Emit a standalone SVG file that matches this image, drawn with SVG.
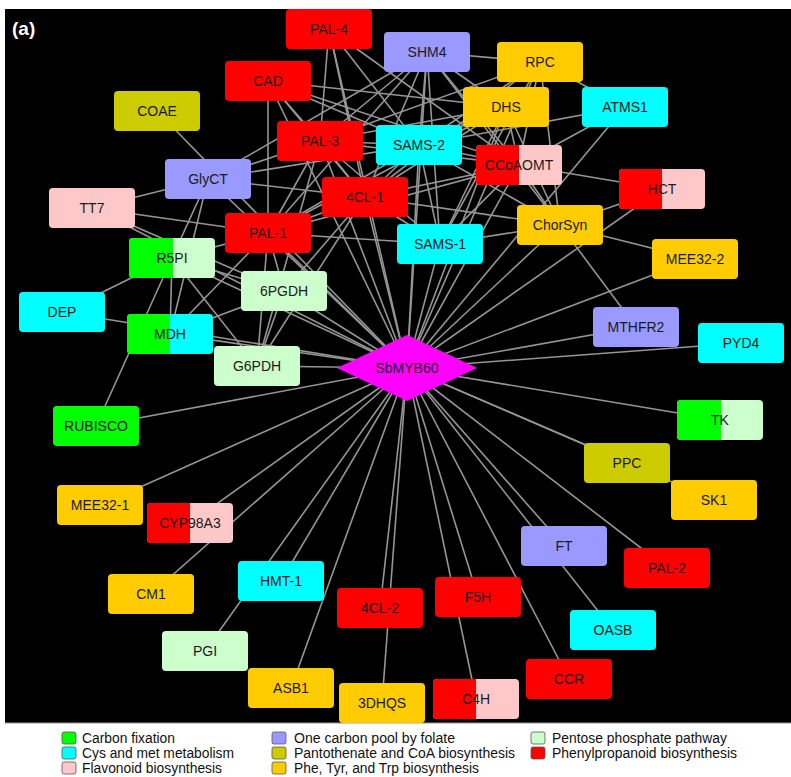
<svg xmlns="http://www.w3.org/2000/svg" width="791" height="777" viewBox="0 0 791 777">
<style>
.e line{stroke:#959595;stroke-width:1.6}
.n text{font-family:"Liberation Sans",Arial,sans-serif;font-size:14px;fill:#1a1a1a;text-anchor:middle}
.lg text{font-family:"Liberation Sans Narrow","Liberation Sans",Arial,sans-serif;font-size:14px;fill:#111}
.lg rect{stroke:#555;stroke-width:0.8}
.cf{fill:#00ff00}.cm{fill:#00ffff}.fl{fill:#ffc8c8}.oc{fill:#9999ff}.pa{fill:#cccc00}.pt{fill:#ffcc00}.pp{fill:#ccffcc}.ph{fill:#ff0000}
</style>
<rect x="0" y="0" width="791" height="777" fill="#ffffff"/>
<rect x="5" y="9" width="786" height="714" fill="#000000"/>
<line x1="5" y1="723" x2="791" y2="723" stroke="#999" stroke-width="1"/>
<text x="12" y="35" font-family="Liberation Sans,Arial,sans-serif" font-size="19" font-weight="bold" fill="#ffffff">(a)</text>
<g id="connectors" class="e">
<line x1="407" y1="368" x2="329" y2="29"/>
<line x1="407" y1="368" x2="268" y2="81"/>
<line x1="407" y1="368" x2="157" y2="111"/>
<line x1="407" y1="368" x2="427" y2="52"/>
<line x1="407" y1="368" x2="540" y2="62"/>
<line x1="407" y1="368" x2="506" y2="107"/>
<line x1="407" y1="368" x2="625" y2="107"/>
<line x1="407" y1="368" x2="320" y2="141"/>
<line x1="407" y1="368" x2="419" y2="145"/>
<line x1="407" y1="368" x2="519" y2="165"/>
<line x1="407" y1="368" x2="208" y2="179"/>
<line x1="407" y1="368" x2="365" y2="197"/>
<line x1="407" y1="368" x2="662" y2="189"/>
<line x1="407" y1="368" x2="92" y2="208"/>
<line x1="407" y1="368" x2="268" y2="233"/>
<line x1="407" y1="368" x2="560" y2="225"/>
<line x1="407" y1="368" x2="440" y2="244"/>
<line x1="407" y1="368" x2="172" y2="258"/>
<line x1="407" y1="368" x2="695" y2="259"/>
<line x1="407" y1="368" x2="284" y2="291"/>
<line x1="407" y1="368" x2="62" y2="312"/>
<line x1="407" y1="368" x2="170" y2="334"/>
<line x1="407" y1="368" x2="636" y2="327"/>
<line x1="407" y1="368" x2="741" y2="343"/>
<line x1="407" y1="368" x2="257" y2="366"/>
<line x1="407" y1="368" x2="96" y2="426"/>
<line x1="407" y1="368" x2="720" y2="420"/>
<line x1="407" y1="368" x2="627" y2="463"/>
<line x1="407" y1="368" x2="100" y2="505"/>
<line x1="407" y1="368" x2="714" y2="500"/>
<line x1="407" y1="368" x2="190" y2="523"/>
<line x1="407" y1="368" x2="564" y2="546"/>
<line x1="407" y1="368" x2="667" y2="568"/>
<line x1="407" y1="368" x2="281" y2="581"/>
<line x1="407" y1="368" x2="151" y2="594"/>
<line x1="407" y1="368" x2="478" y2="597"/>
<line x1="407" y1="368" x2="380" y2="608"/>
<line x1="407" y1="368" x2="613" y2="630"/>
<line x1="407" y1="368" x2="205" y2="651"/>
<line x1="407" y1="368" x2="569" y2="679"/>
<line x1="407" y1="368" x2="291" y2="688"/>
<line x1="407" y1="368" x2="476" y2="699"/>
<line x1="407" y1="368" x2="382" y2="703"/>
<line x1="329" y1="29" x2="320" y2="141"/>
<line x1="329" y1="29" x2="365" y2="197"/>
<line x1="329" y1="29" x2="419" y2="145"/>
<line x1="329" y1="29" x2="519" y2="165"/>
<line x1="268" y1="81" x2="268" y2="233"/>
<line x1="268" y1="81" x2="320" y2="141"/>
<line x1="268" y1="81" x2="365" y2="197"/>
<line x1="268" y1="81" x2="419" y2="145"/>
<line x1="268" y1="81" x2="506" y2="107"/>
<line x1="268" y1="81" x2="519" y2="165"/>
<line x1="427" y1="52" x2="540" y2="62"/>
<line x1="427" y1="52" x2="419" y2="145"/>
<line x1="427" y1="52" x2="320" y2="141"/>
<line x1="427" y1="52" x2="208" y2="179"/>
<line x1="427" y1="52" x2="365" y2="197"/>
<line x1="427" y1="52" x2="268" y2="233"/>
<line x1="427" y1="52" x2="519" y2="165"/>
<line x1="427" y1="52" x2="560" y2="225"/>
<line x1="427" y1="52" x2="506" y2="107"/>
<line x1="427" y1="52" x2="440" y2="244"/>
<line x1="540" y1="62" x2="625" y2="107"/>
<line x1="540" y1="62" x2="419" y2="145"/>
<line x1="540" y1="62" x2="519" y2="165"/>
<line x1="540" y1="62" x2="365" y2="197"/>
<line x1="540" y1="62" x2="320" y2="141"/>
<line x1="540" y1="62" x2="440" y2="244"/>
<line x1="540" y1="62" x2="560" y2="225"/>
<line x1="506" y1="107" x2="419" y2="145"/>
<line x1="506" y1="107" x2="320" y2="141"/>
<line x1="506" y1="107" x2="365" y2="197"/>
<line x1="506" y1="107" x2="440" y2="244"/>
<line x1="506" y1="107" x2="519" y2="165"/>
<line x1="506" y1="107" x2="560" y2="225"/>
<line x1="506" y1="107" x2="268" y2="233"/>
<line x1="625" y1="107" x2="419" y2="145"/>
<line x1="625" y1="107" x2="519" y2="165"/>
<line x1="519" y1="165" x2="662" y2="189"/>
<line x1="519" y1="165" x2="560" y2="225"/>
<line x1="519" y1="165" x2="419" y2="145"/>
<line x1="519" y1="165" x2="440" y2="244"/>
<line x1="519" y1="165" x2="365" y2="197"/>
<line x1="519" y1="165" x2="320" y2="141"/>
<line x1="519" y1="165" x2="268" y2="233"/>
<line x1="419" y1="145" x2="320" y2="141"/>
<line x1="419" y1="145" x2="365" y2="197"/>
<line x1="419" y1="145" x2="440" y2="244"/>
<line x1="419" y1="145" x2="268" y2="233"/>
<line x1="419" y1="145" x2="560" y2="225"/>
<line x1="419" y1="145" x2="208" y2="179"/>
<line x1="320" y1="141" x2="365" y2="197"/>
<line x1="320" y1="141" x2="268" y2="233"/>
<line x1="320" y1="141" x2="208" y2="179"/>
<line x1="320" y1="141" x2="440" y2="244"/>
<line x1="320" y1="141" x2="257" y2="366"/>
<line x1="365" y1="197" x2="268" y2="233"/>
<line x1="365" y1="197" x2="440" y2="244"/>
<line x1="365" y1="197" x2="208" y2="179"/>
<line x1="365" y1="197" x2="257" y2="366"/>
<line x1="365" y1="197" x2="284" y2="291"/>
<line x1="365" y1="197" x2="560" y2="225"/>
<line x1="268" y1="233" x2="440" y2="244"/>
<line x1="268" y1="233" x2="172" y2="258"/>
<line x1="268" y1="233" x2="170" y2="334"/>
<line x1="268" y1="233" x2="284" y2="291"/>
<line x1="268" y1="233" x2="257" y2="366"/>
<line x1="268" y1="233" x2="92" y2="208"/>
<line x1="208" y1="179" x2="92" y2="208"/>
<line x1="208" y1="179" x2="172" y2="258"/>
<line x1="208" y1="179" x2="170" y2="334"/>
<line x1="92" y1="208" x2="284" y2="291"/>
<line x1="172" y1="258" x2="170" y2="334"/>
<line x1="172" y1="258" x2="62" y2="312"/>
<line x1="172" y1="258" x2="284" y2="291"/>
<line x1="172" y1="258" x2="96" y2="426"/>
<line x1="172" y1="258" x2="257" y2="366"/>
<line x1="170" y1="334" x2="284" y2="291"/>
<line x1="284" y1="291" x2="257" y2="366"/>
<line x1="662" y1="189" x2="560" y2="225"/>
<line x1="560" y1="225" x2="695" y2="259"/>
<line x1="560" y1="225" x2="636" y2="327"/>
<line x1="560" y1="225" x2="440" y2="244"/>
</g>
<g id="PAL-4" class="n"><rect class="ph" x="286" y="9" width="86" height="40" rx="4"/><text x="329" y="34">PAL-4</text></g>
<g id="CAD" class="n"><rect class="ph" x="225" y="61" width="86" height="40" rx="4"/><text x="268" y="86">CAD</text></g>
<g id="COAE" class="n"><rect class="pa" x="114" y="91" width="86" height="40" rx="4"/><text x="157" y="116">COAE</text></g>
<g id="SHM4" class="n"><rect class="oc" x="384" y="32" width="86" height="40" rx="4"/><text x="427" y="57">SHM4</text></g>
<g id="RPC" class="n"><rect class="pt" x="497" y="42" width="86" height="40" rx="4"/><text x="540" y="67">RPC</text></g>
<g id="DHS" class="n"><rect class="pt" x="463" y="87" width="86" height="40" rx="4"/><text x="506" y="112">DHS</text></g>
<g id="ATMS1" class="n"><rect class="cm" x="582" y="87" width="86" height="40" rx="4"/><text x="625" y="112">ATMS1</text></g>
<g id="PAL-3" class="n"><rect class="ph" x="277" y="121" width="86" height="40" rx="4"/><text x="320" y="146">PAL-3</text></g>
<g id="SAMS-2" class="n"><rect class="cm" x="376" y="125" width="86" height="40" rx="4"/><text x="419" y="150">SAMS-2</text></g>
<g id="CCoAOMT" class="n"><rect class="fl" x="476" y="145" width="86" height="40" rx="4"/><path class="ph" d="M480 145H519V185H480A4 4 0 0 1 476 181V149A4 4 0 0 1 480 145Z"/><text x="519" y="170">CCoAOMT</text></g>
<g id="GlyCT" class="n"><rect class="oc" x="165" y="159" width="86" height="40" rx="4"/><text x="208" y="184">GlyCT</text></g>
<g id="4CL-1" class="n"><rect class="ph" x="322" y="177" width="86" height="40" rx="4"/><text x="365" y="202">4CL-1</text></g>
<g id="HCT" class="n"><rect class="fl" x="619" y="169" width="86" height="40" rx="4"/><path class="ph" d="M623 169H662V209H623A4 4 0 0 1 619 205V173A4 4 0 0 1 623 169Z"/><text x="662" y="194">HCT</text></g>
<g id="TT7" class="n"><rect class="fl" x="49" y="188" width="86" height="40" rx="4"/><text x="92" y="213">TT7</text></g>
<g id="PAL-1" class="n"><rect class="ph" x="225" y="213" width="86" height="40" rx="4"/><text x="268" y="238">PAL-1</text></g>
<g id="ChorSyn" class="n"><rect class="pt" x="517" y="205" width="86" height="40" rx="4"/><text x="560" y="230">ChorSyn</text></g>
<g id="SAMS-1" class="n"><rect class="cm" x="397" y="224" width="86" height="40" rx="4"/><text x="440" y="249">SAMS-1</text></g>
<g id="R5PI" class="n"><rect class="pp" x="129" y="238" width="86" height="40" rx="4"/><path class="cf" d="M133 238H173V278H133A4 4 0 0 1 129 274V242A4 4 0 0 1 133 238Z"/><text x="172" y="263">R5PI</text></g>
<g id="MEE32-2" class="n"><rect class="pt" x="652" y="239" width="86" height="40" rx="4"/><text x="695" y="264">MEE32-2</text></g>
<g id="6PGDH" class="n"><rect class="pp" x="241" y="271" width="86" height="40" rx="4"/><text x="284" y="296">6PGDH</text></g>
<g id="DEP" class="n"><rect class="cm" x="19" y="292" width="86" height="40" rx="4"/><text x="62" y="317">DEP</text></g>
<g id="MDH" class="n"><rect class="cm" x="127" y="314" width="86" height="40" rx="4"/><path class="cf" d="M131 314H170V354H131A4 4 0 0 1 127 350V318A4 4 0 0 1 131 314Z"/><text x="170" y="339">MDH</text></g>
<g id="MTHFR2" class="n"><rect class="oc" x="593" y="307" width="86" height="40" rx="4"/><text x="636" y="332">MTHFR2</text></g>
<g id="PYD4" class="n"><rect class="cm" x="698" y="323" width="86" height="40" rx="4"/><text x="741" y="348">PYD4</text></g>
<g id="G6PDH" class="n"><rect class="pp" x="214" y="346" width="86" height="40" rx="4"/><text x="257" y="371">G6PDH</text></g>
<g id="SbMYB60" class="n"><polygon points="337,368 407,335 477,368 407,401" fill="#ff00ff"/><text x="407" y="373">SbMYB60</text></g>
<g id="RUBISCO" class="n"><rect class="cf" x="53" y="406" width="86" height="40" rx="4"/><text x="96" y="431">RUBISCO</text></g>
<g id="TK" class="n"><rect class="pp" x="677" y="400" width="86" height="40" rx="4"/><path class="cf" d="M681 400H721V440H681A4 4 0 0 1 677 436V404A4 4 0 0 1 681 400Z"/><text x="720" y="425">TK</text></g>
<g id="PPC" class="n"><rect class="pa" x="584" y="443" width="86" height="40" rx="4"/><text x="627" y="468">PPC</text></g>
<g id="MEE32-1" class="n"><rect class="pt" x="57" y="485" width="86" height="40" rx="4"/><text x="100" y="510">MEE32-1</text></g>
<g id="SK1" class="n"><rect class="pt" x="671" y="480" width="86" height="40" rx="4"/><text x="714" y="505">SK1</text></g>
<g id="CYP98A3" class="n"><rect class="fl" x="147" y="503" width="86" height="40" rx="4"/><path class="ph" d="M151 503H190V543H151A4 4 0 0 1 147 539V507A4 4 0 0 1 151 503Z"/><text x="190" y="528">CYP98A3</text></g>
<g id="FT" class="n"><rect class="oc" x="521" y="526" width="86" height="40" rx="4"/><text x="564" y="551">FT</text></g>
<g id="PAL-2" class="n"><rect class="ph" x="624" y="548" width="86" height="40" rx="4"/><text x="667" y="573">PAL-2</text></g>
<g id="HMT-1" class="n"><rect class="cm" x="238" y="561" width="86" height="40" rx="4"/><text x="281" y="586">HMT-1</text></g>
<g id="CM1" class="n"><rect class="pt" x="108" y="574" width="86" height="40" rx="4"/><text x="151" y="599">CM1</text></g>
<g id="F5H" class="n"><rect class="ph" x="435" y="577" width="86" height="40" rx="4"/><text x="478" y="602">F5H</text></g>
<g id="4CL-2" class="n"><rect class="ph" x="337" y="588" width="86" height="40" rx="4"/><text x="380" y="613">4CL-2</text></g>
<g id="OASB" class="n"><rect class="cm" x="570" y="610" width="86" height="40" rx="4"/><text x="613" y="635">OASB</text></g>
<g id="PGI" class="n"><rect class="pp" x="162" y="631" width="86" height="40" rx="4"/><text x="205" y="656">PGI</text></g>
<g id="CCR" class="n"><rect class="ph" x="526" y="659" width="86" height="40" rx="4"/><text x="569" y="684">CCR</text></g>
<g id="ASB1" class="n"><rect class="pt" x="248" y="668" width="86" height="40" rx="4"/><text x="291" y="693">ASB1</text></g>
<g id="C4H" class="n"><rect class="fl" x="433" y="679" width="86" height="40" rx="4"/><path class="ph" d="M437 679H476V719H437A4 4 0 0 1 433 715V683A4 4 0 0 1 437 679Z"/><text x="476" y="704">C4H</text></g>
<g id="3DHQS" class="n"><rect class="pt" x="339" y="683" width="86" height="40" rx="4"/><text x="382" y="708">3DHQS</text></g>
<g id="legend" class="lg">
<rect class="cf" x="62" y="732" width="14" height="12" rx="2"/><text x="82" y="743" textLength="93" lengthAdjust="spacingAndGlyphs">Carbon fixation</text>
<rect class="cm" x="62" y="747" width="14" height="12" rx="2"/><text x="82" y="758" textLength="152" lengthAdjust="spacingAndGlyphs">Cys and met metabolism</text>
<rect class="fl" x="62" y="762" width="14" height="12" rx="2"/><text x="82" y="773" textLength="140" lengthAdjust="spacingAndGlyphs">Flavonoid biosynthesis</text>
<rect class="oc" x="272" y="732" width="14" height="12" rx="2"/><text x="294" y="743" textLength="161" lengthAdjust="spacingAndGlyphs">One carbon pool by folate</text>
<rect class="pa" x="272" y="747" width="14" height="12" rx="2"/><text x="294" y="758" textLength="221" lengthAdjust="spacingAndGlyphs">Pantothenate and CoA biosynthesis</text>
<rect class="pt" x="272" y="762" width="14" height="12" rx="2"/><text x="294" y="773" textLength="185" lengthAdjust="spacingAndGlyphs">Phe, Tyr, and Trp biosynthesis</text>
<rect class="pp" x="531" y="732" width="14" height="12" rx="2"/><text x="552" y="743" textLength="175" lengthAdjust="spacingAndGlyphs">Pentose phosphate pathway</text>
<rect class="ph" x="531" y="747" width="14" height="12" rx="2"/><text x="552" y="758" textLength="185" lengthAdjust="spacingAndGlyphs">Phenylpropanoid biosynthesis</text>
</g>
</svg>
